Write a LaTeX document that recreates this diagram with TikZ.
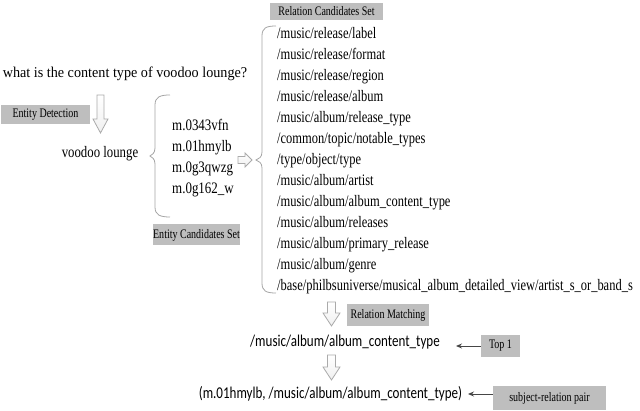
\documentclass[tikz,border=0pt]{standalone}
\usepackage{fontspec}
\setmainfont{Liberation Serif}
\newfontfamily\carl{Carlito}
\usepackage{graphicx}
\usetikzlibrary{arrows.meta}
\definecolor{boxgray}{RGB}{190,190,190}
\definecolor{bracegray}{RGB}{165,165,165}
\definecolor{arrgray}{RGB}{170,170,170}
\definecolor{linegray}{RGB}{70,70,70}
\newcommand{\sx}[2]{\scalebox{#1}[1]{#2}}
\begin{document}
\begin{tikzpicture}[x=1pt,y=-1pt,
  lbl/.style={fill=boxgray, inner sep=0pt, font=\fontsize{13}{13}\selectfont},
  txt/.style={inner sep=0pt, anchor=base west, font=\fontsize{16}{16}\selectfont},
  plain/.style={inner sep=0pt},
  brace/.style={draw=bracegray, line width=0.8pt},
  blk/.style={draw=arrgray, line width=0.8pt, top color=white, bottom color=gray!12},
  thin arrow/.style={draw=linegray, line width=0.9pt, -{Stealth[length=6pt,width=5pt]}}]
\useasboundingbox (0,0) rectangle (640,411);

% question and entity detection
\node[plain, font=\fontsize{15}{15}\selectfont] (q) at (125,74) {\sx{0.945}{what is the content type of voodoo lounge?}};
\node[lbl, minimum width=89, minimum height=19] (ed) at (45.5,114.5) {\sx{0.77}{Entity Detection}};
\draw[blk] (97,95) -- (104,95) -- (104,119) -- (108,119) -- (100.5,133) -- (93,119) -- (97,119) -- cycle;
\node[plain, font=\fontsize{16}{16}\selectfont] (vl) at (100,154) {\sx{0.8}{voodoo lounge}};

% entity candidates
\draw[brace] (170,95) .. controls (160,95) and (155,97) .. (155,105) -- (155,148)
  .. controls (155,153) and (152,155) .. (150,156) .. controls (152,157) and (155,159) .. (155,164)
  -- (155,207) .. controls (155,215) and (160,217) .. (170,217);
\foreach \t [count=\i] in {m.0343vfn, m.01hmylb, m.0g3qwzg, m.0g162\_w}
  \node[txt] (e\i) at (172,{130.5+21*(\i-1)}) {\sx{0.81}{\t}};
\node[lbl, minimum width=87, minimum height=21] (ecs) at (196.5,235) {\sx{0.77}{Entity Candidates Set}};
\draw[blk] (238,156.5) -- (245,156.5) -- (245,153) -- (252,160) -- (245,167) -- (245,163.5) -- (238,163.5) -- cycle;

% relation candidates
\node[lbl, minimum width=113, minimum height=17] (rcs) at (326.5,11.5) {\sx{0.77}{Relation Candidates Set}};
\draw[brace] (276,26) .. controls (266,26) and (262,28) .. (262,36) -- (262,152)
  .. controls (262,157) and (259,159) .. (256,160) .. controls (259,161) and (262,163) .. (262,168)
  -- (262,283) .. controls (262,291) and (266,293) .. (276,293);
\foreach \t [count=\i] in {/music/release/label, /music/release/format, /music/release/region,
  /music/release/album, /music/album/release\_type, /common/topic/notable\_types,
  /type/object/type, /music/album/artist, /music/album/album\_content\_type,
  /music/album/releases, /music/album/primary\_release, /music/album/genre,
  /base/philbsuniverse/musical\_album\_detailed\_view/artist\_s\_or\_band\_s}
  \node[txt] (r\i) at (277,{38.5+21*(\i-1)}) {\sx{0.78}{\t}};

% relation matching
\draw[blk] (327.5,302) -- (335.5,302) -- (335.5,313) -- (340,313) -- (331.5,326) -- (323,313) -- (327.5,313) -- cycle;
\node[lbl, minimum width=82, minimum height=22] (rm) at (388,315) {\sx{0.77}{Relation Matching}};
\node[plain, font=\carl\fontsize{16.5}{16.5}\selectfont] (rel) at (345,342) {\sx{0.79}{/music/album/album\_content\_type}};
\node[lbl, minimum width=39, minimum height=22] (top) at (500.5,346) {\sx{0.77}{Top 1}};
\coordinate (toptip) at (456,346);
\draw[thin arrow] (top.west) -- (toptip);

\draw[blk] (327.5,355) -- (335.5,355) -- (335.5,367) -- (340,367) -- (331.5,380) -- (323,367) -- (327.5,367) -- cycle;
\node[plain, font=\carl\fontsize{16.5}{16.5}\selectfont] (pair) at (330.5,394) {\sx{0.79}{(m.01hmylb, /music/album/album\_content\_type)}};
\node[lbl, minimum width=113, minimum height=24] (srp) at (549.5,398) {\sx{0.77}{subject-relation pair}};
\coordinate (srtip) at (468,394);
\draw[thin arrow] (srp.west |- srtip) -- (srtip);
\end{tikzpicture}
\end{document}
